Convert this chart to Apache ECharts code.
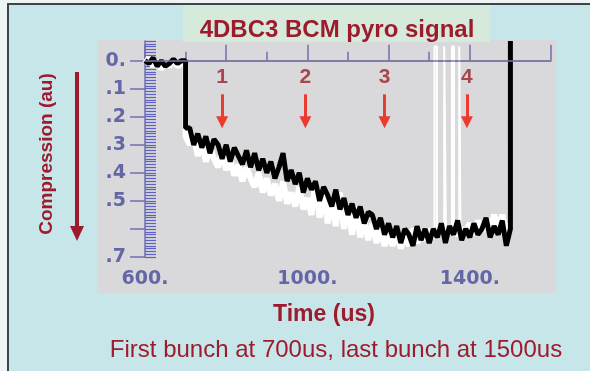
<!DOCTYPE html>
<html>
<head>
<meta charset="utf-8">
<script src="https://cdn.jsdelivr.net/npm/echarts@6/dist/echarts.min.js"></script>
<style>
  html, body { margin: 0; padding: 0; background: #eef3f3; }
  #chart { width: 590px; height: 371px; }
</style>
</head>
<body>
<div id="chart"></div>
<script>
// black trace (BCM pyro signal), time in us / compression in au
var blackTime = [600, 610, 620, 630, 640, 650, 660, 670, 680, 690, 700, 700,
  710, 720, 730, 740, 750, 760, 770, 780, 790, 800,
  810, 820, 830, 840, 850, 860, 870, 880, 890, 900,
  910, 920, 930, 940, 950, 960, 970, 980, 990, 1000,
  1010, 1020, 1030, 1040, 1050, 1060, 1070, 1080, 1090, 1100,
  1110, 1120, 1130, 1140, 1150, 1160, 1170, 1180, 1190, 1200,
  1210, 1220, 1230, 1240, 1250, 1260, 1270, 1280, 1290, 1300,
  1310, 1320, 1330, 1340, 1350, 1360, 1370, 1380, 1390, 1400,
  1410, 1420, 1430, 1440, 1450, 1460, 1470, 1480, 1490, 1500, 1500]
var blackVal = [0.00, 0.01, -0.01, 0.02, 0.00, 0.02, 0.01, -0.005, 0.01, 0.00, 0.00, 0.24,
  0.24, 0.30, 0.26, 0.31, 0.27, 0.33, 0.28, 0.30, 0.35, 0.30,
  0.36, 0.31, 0.34, 0.37, 0.32, 0.38, 0.33, 0.39, 0.35, 0.40,
  0.36, 0.42, 0.38, 0.33, 0.43, 0.39, 0.44, 0.40, 0.47, 0.42,
  0.46, 0.43, 0.50, 0.45, 0.48, 0.52, 0.46, 0.53, 0.49, 0.55,
  0.51, 0.56, 0.52, 0.58, 0.54, 0.55, 0.60, 0.56, 0.62, 0.58,
  0.63, 0.59, 0.65, 0.60, 0.62, 0.66, 0.59, 0.64, 0.60, 0.65,
  0.60, 0.63, 0.58, 0.65, 0.59, 0.62, 0.57, 0.64, 0.60, 0.63,
  0.58, 0.62, 0.60, 0.56, 0.63, 0.59, 0.62, 0.57, 0.66, 0.60, -0.07]

// white trace
var whiteTime = [600, 610, 620, 630, 640, 650, 660, 670, 680, 690, 700, 700,
  710, 720, 730, 740, 750, 760, 770, 780, 790, 800,
  810, 820, 830, 840, 850, 860, 870, 880, 890, 900,
  910, 920, 930, 940, 950, 960, 970, 980, 990, 1000,
  1010, 1020, 1030, 1040, 1050, 1060, 1070, 1080, 1090, 1100,
  1110, 1120, 1130, 1140, 1150, 1160, 1170, 1180, 1190, 1200,
  1210, 1220, 1230, 1240, 1250, 1260, 1270, 1280, 1290, 1300,
  1310, 1320, 1330, 1340, 1350, 1360, 1370, 1380, 1390, 1400,
  1410, 1420, 1430, 1440, 1450, 1460, 1470, 1480, 1490, 1500]
var whiteVal = [0.01, -0.01, 0.02, 0.00, 0.03, 0.01, 0.02, 0.00, 0.02, 0.01, 0.01, 0.27,
  0.30, 0.27, 0.34, 0.29, 0.36, 0.31, 0.35, 0.38, 0.32, 0.39,
  0.35, 0.41, 0.37, 0.43, 0.38, 0.42, 0.45, 0.40, 0.47, 0.42,
  0.48, 0.44, 0.50, 0.43, 0.51, 0.47, 0.52, 0.45, 0.53, 0.49,
  0.55, 0.43, 0.56, 0.47, 0.58, 0.50, 0.59, 0.47, 0.60, 0.53,
  0.62, 0.52, 0.63, 0.57, 0.64, 0.58, 0.65, 0.60, 0.66, 0.62,
  0.66, 0.61, 0.67, 0.62, 0.66, 0.60, 0.65, 0.61, 0.64, 0.60,
  0.63, 0.61, 0.60, 0.62, 0.60, 0.61, 0.62, 0.60, 0.61, 0.58,
  0.62, 0.57, 0.61, 0.56, 0.60, 0.55, 0.60, 0.55, 0.62, 0.58]

// white glitch stripes around 1320-1380 us
var stripeTime = [1313, 1313, 1319, 1319, 1337, 1337, 1341, 1341,
  1356, 1356, 1361, 1361, 1374, 1374, 1377, 1377]
var stripeVal = [0.60, -0.05, -0.05, 0.60, 0.60, -0.05, -0.05, 0.60,
  0.60, -0.05, -0.05, 0.60, 0.60, -0.05, -0.05, 0.60]

// numbered bunch arrows
var arrowTimes = [790, 995, 1190, 1393]
var arrowLabels = ['1', '2', '3', '4']

// axis labels
var xLabelValues = [600, 1000, 1400]
var yTickValues = [0, 0.1, 0.2, 0.3, 0.4, 0.5, 0.6, 0.7]
var yLabelValues = [0, 0.1, 0.2, 0.3, 0.4, 0.5, 0.7]
var yLabelTexts = ['0.', '.1', '.2', '.3', '.4', '.5', '.7']

var axisColor = '#706fae'
var labelColor = '#6566a6'
var darkRed = '#9d1b2c'
var font = '"Liberation Sans", Arial, sans-serif'
var tickFont = '"DejaVu Sans", sans-serif'

function zip(xs, ys) {
  return xs.map(function (x, i) { return [x, ys[i]] })
}

var chart = echarts.init(document.getElementById('chart'))

chart.setOption({
  backgroundColor: '#c7e6ea',
  animation: false,
  grid: { left: 145, right: 39, top: 41, bottom: 114 },
  xAxis: {
    type: 'value',
    min: 600,
    max: 1600,
    interval: 200,
    axisLine: { lineStyle: { color: axisColor, width: 1.5 } },
    axisTick: { inside: true, length: 16, lineStyle: { color: axisColor, width: 1.5 } },
    minorTick: { show: true, splitNumber: 2, length: 9, lineStyle: { color: axisColor, width: 1.5 } },
    axisLabel: {
      customValues: xLabelValues,
      formatter: function (v) { return v + '.' },
      margin: 13,
      color: labelColor,
      fontSize: 19,
      fontWeight: 'bold',
      fontFamily: tickFont
    },
    splitLine: { show: false }
  },
  yAxis: [
    {
      type: 'value',
      min: -0.07,
      max: 0.7,
      inverse: true,
      axisLine: { show: true, lineStyle: { color: axisColor, width: 1.5 } },
      axisTick: { show: true, length: 15, customValues: yTickValues, lineStyle: { color: axisColor, width: 1.5 } },
      axisLabel: {
        customValues: yLabelValues,
        formatter: function (v) { return yLabelTexts[yLabelValues.indexOf(v)] },
        margin: 19,
        color: labelColor,
        fontSize: 19,
        fontWeight: 'bold',
        fontFamily: tickFont
      },
      splitLine: { show: false }
    },
    {
      // dense ruler comb on the left axis
      type: 'value',
      min: 0,
      max: 0.77,
      interval: 0.01,
      inverse: true,
      position: 'left',
      axisLine: { show: false },
      axisTick: { show: true, inside: true, length: 11, lineStyle: { color: '#5e60c4', width: 1.2 } },
      axisLabel: { show: false },
      splitLine: { show: false }
    }
  ],
  graphic: [
    { type: 'rect', z: -10, shape: { x: 0, y: 0, width: 590, height: 3 }, style: { fill: '#eef3f3' } },
    { type: 'rect', z: -10, shape: { x: 0, y: 0, width: 7, height: 371 }, style: { fill: '#eef3f3' } },
    { type: 'rect', z: -9, shape: { x: 7, y: 3, width: 583, height: 2 }, style: { fill: '#3e4548' } },
    { type: 'rect', z: -9, shape: { x: 7, y: 3, width: 2, height: 368 }, style: { fill: '#3e4548' } },
    { type: 'rect', z: -8, shape: { x: 97, y: 40, width: 459, height: 253 }, style: { fill: '#d9d9db' } },
    { type: 'rect', z: -7, shape: { x: 183, y: 5, width: 307, height: 37 }, style: { fill: '#d6eadb' } },
    {
      type: 'text', z: 100, x: 337, y: 30,
      style: { text: '4DBC3 BCM pyro signal', fill: darkRed, font: 'bold 24px ' + font, textAlign: 'center', textVerticalAlign: 'middle' }
    },
    {
      type: 'text', z: 100, x: 324, y: 315,
      style: { text: 'Time (us)', fill: darkRed, font: 'bold 23px ' + font, textAlign: 'center', textVerticalAlign: 'middle' }
    },
    {
      type: 'text', z: 100, x: 336, y: 350,
      style: { text: 'First bunch at 700us, last bunch at 1500us', fill: darkRed, font: '24px ' + font, textAlign: 'center', textVerticalAlign: 'middle' }
    },
    {
      type: 'text', z: 100, x: 47, y: 154, rotation: Math.PI / 2,
      style: { text: 'Compression (au)', fill: darkRed, font: 'bold 19px ' + font, textAlign: 'center', textVerticalAlign: 'middle' }
    },
    { type: 'line', z: 100, shape: { x1: 77, y1: 72, x2: 77, y2: 228 }, style: { stroke: darkRed, lineWidth: 4 } },
    { type: 'polygon', z: 100, shape: { points: [[70, 226], [84, 226], [77, 241]] }, style: { fill: darkRed } }
  ],
  series: [
    {
      // zero reference line
      type: 'line',
      data: [],
      z: 1,
      markLine: {
        silent: true,
        symbol: 'none',
        label: { show: false },
        lineStyle: { color: '#7b78a6', width: 1.5, type: 'solid' },
        data: [{ yAxis: 0 }]
      }
    },
    {
      name: 'white',
      type: 'line',
      data: zip(whiteTime, whiteVal),
      showSymbol: false,
      z: 2,
      lineStyle: { color: '#ffffff', width: 6 }
    },
    {
      name: 'white stripes',
      type: 'line',
      data: zip(stripeTime, stripeVal),
      showSymbol: false,
      z: 2,
      lineStyle: { color: '#ffffff', width: 2 }
    },
    {
      name: 'black',
      type: 'line',
      data: zip(blackTime, blackVal),
      showSymbol: false,
      z: 3,
      lineStyle: { color: '#000000', width: 5 }
    },
    {
      name: 'bunches',
      type: 'scatter',
      symbolSize: 0,
      z: 4,
      data: arrowTimes.map(function (t) { return [t, 0.058] }),
      label: {
        show: true,
        position: 'inside',
        formatter: function (p) { return arrowLabels[p.dataIndex] },
        color: '#9e1f29',
        fontSize: 21,
        fontWeight: 'bold',
        fontFamily: font
      },
      markLine: {
        silent: true,
        symbol: ['none', 'triangle'],
        symbolSize: 12,
        label: { show: false },
        lineStyle: { color: '#ea3b2e', width: 3, type: 'solid' },
        data: arrowTimes.map(function (t) {
          return [{ coord: [t, 0.12] }, { coord: [t, 0.22] }]
        })
      }
    }
  ]
})
</script>
</body>
</html>
